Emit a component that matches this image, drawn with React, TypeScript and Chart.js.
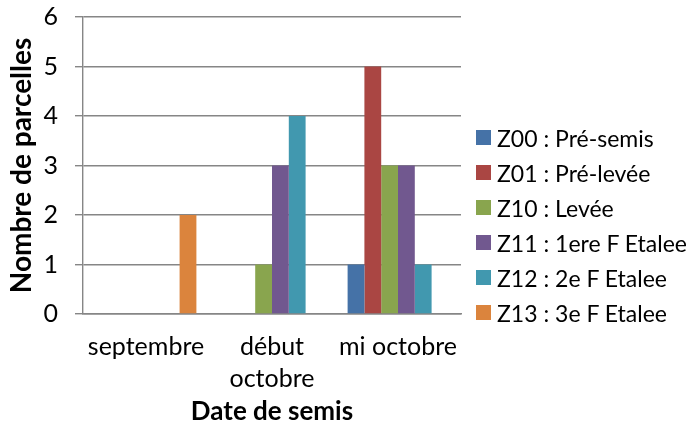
import React, { useEffect, useRef } from "react";
import { Chart, registerables } from "chart.js";

Chart.register(...registerables);

const categories: (string | string[])[] = ["septembre", ["début", "octobre"], "mi octobre"];
const seriesNames = [
  "Z00 : Pré-semis",
  "Z01 : Pré-levée",
  "Z10 : Levée",
  "Z11 : 1ere F Etalee",
  "Z12 : 2e F Etalee",
  "Z13 : 3e F Etalee",
];
const z00 = [0, 0, 1];
const z01 = [0, 0, 5];
const z10 = [0, 1, 3];
const z11 = [0, 3, 3];
const z12 = [0, 4, 1];
const z13 = [2, 0, 0];
const seriesValues = [z00, z01, z10, z11, z12, z13];
const colors = ["#4572A7", "#AA4643", "#89A54E", "#71588F", "#4198AF", "#DB843D"];
const yMin = 0;
const yMax = 6;
const yStep = 1;

const FONT = "Lato, 'Open Sans', sans-serif";

export default function App() {
  const ref = useRef<HTMLCanvasElement>(null);

  useEffect(() => {
    const chart = new Chart(ref.current!, {
      type: "bar",
      data: {
        labels: categories,
        datasets: seriesNames.map((name, i) => ({
          label: name,
          data: seriesValues[i],
          backgroundColor: colors[i],
          borderWidth: 0,
          categoryPercentage: 0.8,
          barPercentage: 1,
        })),
      },
      options: {
        responsive: false,
        animation: false,
        layout: { padding: { left: 0, top: 17, right: 237, bottom: 0 } },
        plugins: {
          legend: { display: false },
          tooltip: { enabled: false },
        },
        scales: {
          y: {
            min: yMin,
            max: yMax,
            ticks: {
              stepSize: yStep,
              color: "#000",
              font: { family: FONT, size: 25 },
              padding: 17,
            },
            grid: { color: "#868686", lineWidth: 1.4, tickLength: 8 },
            border: { color: "#868686", width: 1.4 },
            title: {
              display: true,
              text: "Nombre de parcelles",
              color: "#000",
              font: { family: FONT, size: 28, weight: "bold", lineHeight: 1 },
              padding: { top: 8, bottom: 0 },
            },
            afterFit: (s: any) => {
              s.width = 83;
              s.paddingTop = 0;
              s.paddingBottom = 0;
            },
          },
          x: {
            grid: { display: false, drawTicks: false },
            border: { color: "#868686", width: 1.4 },
            ticks: {
              color: "#000",
              font: { family: FONT, size: 25, lineHeight: 1.28 },
              padding: 17,
              maxRotation: 0,
              autoSkip: false,
            },
            title: {
              display: true,
              text: "Date de semis",
              color: "#000",
              font: { family: FONT, size: 26, weight: "bold", lineHeight: 1 },
              padding: { top: 0, bottom: 0 },
            },
            afterFit: (s: any) => {
              s.height = 111;
            },
          },
        },
      },
    });
    return () => chart.destroy();
  }, []);

  return (
    <div style={{ position: "absolute", left: 0, top: 0, width: 698, height: 425, background: "#fff" }}>
      <canvas ref={ref} width={698} height={425} style={{ display: "block" }} />
      <div style={{ position: "absolute", left: 476, top: 120, fontFamily: FONT, fontSize: 23, color: "#000" }}>
        {seriesNames.map((name, i) => (
          <div key={name} style={{ display: "flex", alignItems: "center", height: 35, whiteSpace: "nowrap" }}>
            <span style={{ display: "inline-block", width: 15, height: 15, background: colors[i], marginRight: 6 }} />
            <span>{name}</span>
          </div>
        ))}
      </div>
    </div>
  );
}
